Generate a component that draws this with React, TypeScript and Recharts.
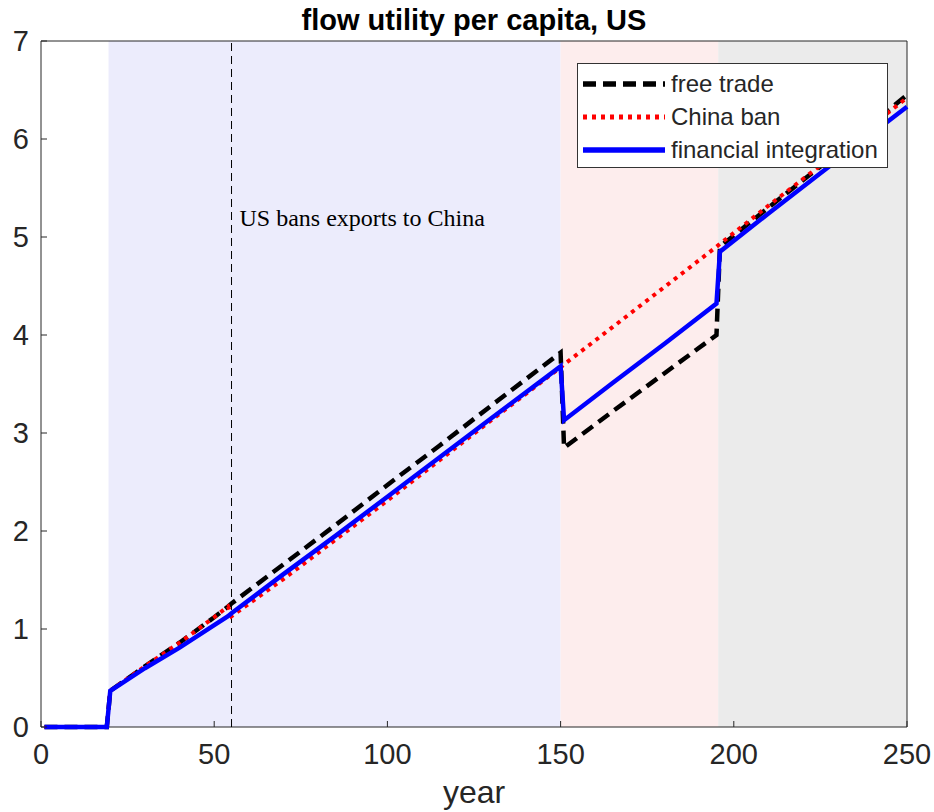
import { LineChart, Line, XAxis, YAxis, ReferenceArea, ReferenceLine, ReferenceDot } from 'recharts';

// simulated years and flow utility per capita for the US under each scenario
const years = [1, 19, 20, 30, 40, 50, 54, 55, 70, 85, 100, 115, 130, 150, 151, 165, 180, 195, 196, 210, 225, 250];
const freeTrade = [0, 0, 0.37, 0.62, 0.86, 1.12, 1.23, 1.26, 1.66, 2.06, 2.47, 2.87, 3.28, 3.82, 2.85, 3.22, 3.61, 4.0, 4.9, 5.3, 5.72, 6.45];
const chinaBan = [0, 0, 0.37, 0.62, 0.86, 1.12, 1.23, 1.13, 1.51, 1.91, 2.31, 2.72, 3.13, 3.67, 3.7, 4.08, 4.49, 4.9, 4.93, 5.32, 5.73, 6.42];
const financialIntegration = [0, 0, 0.37, 0.6, 0.81, 1.04, 1.13, 1.16, 1.56, 1.95, 2.35, 2.75, 3.15, 3.68, 3.13, 3.51, 3.91, 4.32, 4.85, 5.24, 5.65, 6.33];

const xTicks = [0, 50, 100, 150, 200, 250];
const yTicks = [0, 1, 2, 3, 4, 5, 6, 7];

// shaded periods
const periods = [
  { from: 19.5, to: 150, color: '#ECECFC' },
  { from: 150, to: 195.5, color: '#FDEDED' },
  { from: 195.5, to: 250, color: '#EBEBEB' },
];
const banYear = 55;

const series = [
  { key: 'free', name: 'free trade', color: '#000000', width: 4.5, dash: '13 7' },
  { key: 'ban', name: 'China ban', color: '#FF0000', width: 4, dash: '4 5' },
  { key: 'fin', name: 'financial integration', color: '#0000FF', width: 4.5, dash: undefined },
];

const data = years.map((year, i) => ({
  year,
  free: freeTrade[i],
  ban: chinaBan[i],
  fin: financialIntegration[i],
}));

const axisColor = '#262626';
const font = '"Liberation Sans", Arial, sans-serif';

function LegendBox() {
  return (
    <div
      style={{
        position: 'absolute',
        left: 577,
        top: 63,
        boxSizing: 'border-box',
        width: 311,
        height: 105,
        paddingTop: 3,
        background: '#fff',
        border: '1.5px solid #333',
        fontFamily: font,
        fontSize: 24,
        color: axisColor,
      }}
    >
      {series.map((s) => (
        <div key={s.key} style={{ display: 'flex', alignItems: 'center', height: 33 }}>
          <svg width={88} height={10} style={{ marginLeft: 5 }}>
            <line x1={0} x2={82} y1={5} y2={5} stroke={s.color} strokeWidth={s.width + 1} strokeDasharray={s.dash} />
          </svg>
          <span>{s.name}</span>
        </div>
      ))}
    </div>
  );
}

export default function App() {
  return (
    <div style={{ position: 'relative', width: 934, height: 812 }}>
      <style>{`body{margin:0}`}</style>
      <LineChart width={934} height={812} data={data} margin={{ top: 41, right: 27, bottom: 0, left: 0 }}>
        {periods.map((p) => (
          <ReferenceArea key={p.from} x1={p.from} x2={p.to} y1={0} y2={7} fill={p.color} fillOpacity={1} stroke="none" />
        ))}
        {/* axes box */}
        <ReferenceArea x1={0} x2={250} y1={0} y2={7} fill="none" stroke={axisColor} strokeWidth={1} />
        <ReferenceLine x={banYear} stroke="#000" strokeWidth={1} strokeDasharray="8 5" />
        <ReferenceDot
          x={banYear}
          y={5.2}
          r={0}
          fill="none"
          stroke="none"
          label={{ value: 'US bans exports to China', position: 'right', offset: 8, fill: '#000', fontSize: 24, fontFamily: '"Liberation Serif", "Times New Roman", serif' }}
        />
        <XAxis
          dataKey="year"
          type="number"
          domain={[0, 250]}
          ticks={xTicks}
          height={85}
          axisLine={false}
          stroke={axisColor}
          tickSize={-6}
          tickMargin={22}
          tick={{ fill: axisColor, fontSize: 29, fontFamily: font }}
          label={{ value: 'year', position: 'insideBottom', offset: 9, fill: axisColor, fontSize: 32, fontFamily: font }}
        />
        <YAxis
          type="number"
          domain={[0, 7]}
          ticks={yTicks}
          width={41}
          axisLine={false}
          stroke={axisColor}
          tickSize={-6}
          tickMargin={18}
          tick={{ fill: axisColor, fontSize: 29, fontFamily: font }}
        />
        {series.map((s) => (
          <Line
            key={s.key}
            dataKey={s.key}
            name={s.name}
            type="linear"
            stroke={s.color}
            strokeWidth={s.width}
            strokeDasharray={s.dash}
            dot={false}
            activeDot={false}
            isAnimationActive={false}
          />
        ))}
        <text x={474} y={30} textAnchor="middle" fontSize={29} fontWeight="bold" fontFamily={font} fill="#000">
          flow utility per capita, US
        </text>
      </LineChart>
      <LegendBox />
    </div>
  );
}
